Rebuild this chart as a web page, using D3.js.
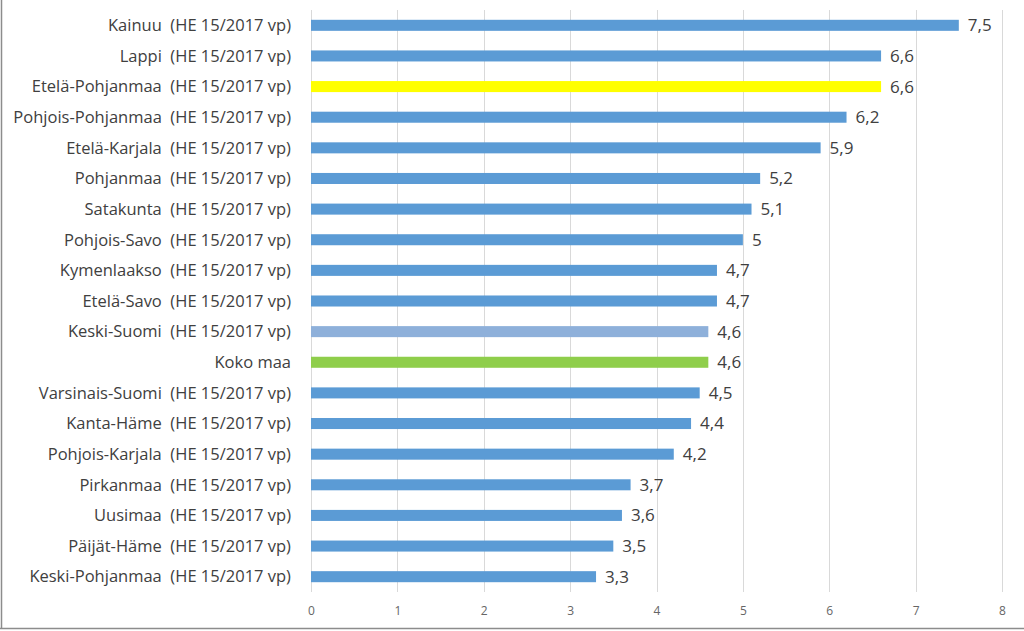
<!DOCTYPE html>
<html lang="fi">
<head>
<meta charset="utf-8">
<title>Maakunnat</title>
<script type="text/javascript" src="https://d3js.org/d3.v7.min.js"></script>
<style>
  body { margin: 0; background: #fff; }
  .cat { font-family: "Open Sans", sans-serif; font-size: 16.5px; fill: #404040; }
  .val { font-family: "Open Sans", sans-serif; font-size: 17px; fill: #404040; }
  .tick text { font-family: "Open Sans", sans-serif; font-size: 12px; fill: #666; }
</style>
</head>
<body>
<div id="chart"></div>
<script type="text/javascript">

var regions = ["Kainuu", "Lappi", "Etelä-Pohjanmaa", "Pohjois-Pohjanmaa", "Etelä-Karjala",
  "Pohjanmaa", "Satakunta", "Pohjois-Savo", "Kymenlaakso", "Etelä-Savo", "Keski-Suomi",
  "Koko maa", "Varsinais-Suomi", "Kanta-Häme", "Pohjois-Karjala", "Pirkanmaa", "Uusimaa",
  "Päijät-Häme", "Keski-Pohjanmaa"];
var values = [7.5, 6.6, 6.6, 6.2, 5.9, 5.2, 5.1, 5, 4.7, 4.7, 4.6, 4.6, 4.5, 4.4, 4.2, 3.7, 3.6, 3.5, 3.3];
var suffix = "  (HE 15/2017 vp)";
var highlight = { "Etelä-Pohjanmaa": "#ffff00", "Keski-Suomi": "#8eb0da", "Koko maa": "#8fce4b" };
var xTicks = [0, 1, 2, 3, 4, 5, 6, 7, 8];

var w = 1024, h = 631;
var svg = d3.select("#chart").append("svg").attr("width", w).attr("height", h);

// frame (left + bottom only visible)
svg.append("line").attr("x1", 1.5).attr("x2", 1.5).attr("y1", 0).attr("y2", 628.5)
  .attr("stroke", "#8c8c8c").attr("stroke-width", 1.5);
svg.append("line").attr("x1", 0).attr("x2", w).attr("y1", 628.5).attr("y2", 628.5)
  .attr("stroke", "#8c8c8c").attr("stroke-width", 1.5);

var x = d3.scaleLinear().domain([0, 8]).range([311, 1002]);
var y = d3.scaleBand().domain(regions).range([10, 592]).paddingInner(0.64).paddingOuter(0.32);

// gridlines
svg.append("g").selectAll("line").data(xTicks).enter().append("line")
  .attr("x1", function(d) { return Math.round(x(d)) + 0.5; })
  .attr("x2", function(d) { return Math.round(x(d)) + 0.5; })
  .attr("y1", 10).attr("y2", 592)
  .attr("stroke", "#d9d9d9").attr("stroke-width", 1);

var axis = d3.axisBottom(x).tickValues(xTicks).tickSize(0).tickPadding(0);
var gx = svg.append("g").attr("class", "tick-axis").attr("transform", "translate(0,615)").call(axis);
gx.select(".domain").remove();
gx.selectAll("text").attr("dy", 0);

// bars
svg.append("g").selectAll("rect").data(regions).enter().append("rect")
  .attr("x", x(0))
  .attr("y", function(d) { return y(d); })
  .attr("width", function(d, i) { return x(values[i]) - x(0); })
  .attr("height", y.bandwidth())
  .attr("fill", function(d) { return highlight[d] || "#5b9bd5"; });

// category labels
svg.append("g").selectAll("text").data(regions).enter().append("text")
  .attr("class", "cat")
  .attr("x", 291)
  .attr("y", function(d) { return y(d) + y.bandwidth() / 2; })
  .attr("dy", "0.35em")
  .attr("text-anchor", "end")
  .style("white-space", "pre")
  .text(function(d) { return d === "Koko maa" ? d : d + suffix; });

// value labels
svg.append("g").selectAll("text").data(regions).enter().append("text")
  .attr("class", "val")
  .attr("x", function(d, i) { return x(values[i]) + 9; })
  .attr("y", function(d) { return y(d) + y.bandwidth() / 2; })
  .attr("dy", "0.35em")
  .text(function(d, i) { return String(values[i]).replace(".", ","); });

</script>
</body>
</html>
